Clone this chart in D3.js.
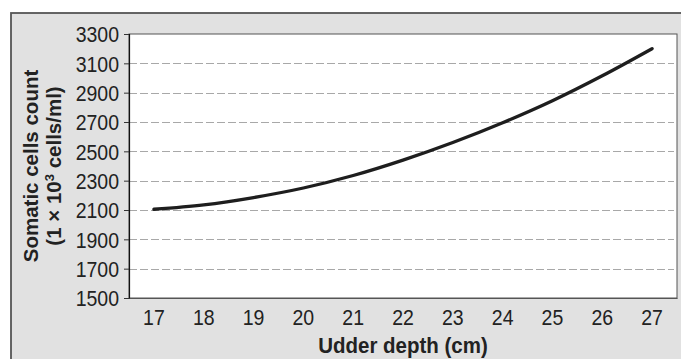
<!DOCTYPE html>
<html><head><meta charset="utf-8">
<script src="https://cdn.jsdelivr.net/npm/d3@7"></script>
<style>html,body{margin:0;padding:0;background:#fff;}svg{display:block;}</style>
</head><body>
<script>
const depths = [17,18,19,20,21,22,23,24,25,26,27];
const scc = [2105,2135,2185,2250,2335,2440,2560,2695,2845,3015,3200];
const yTicks = [1500,1700,1900,2100,2300,2500,2700,2900,3100,3300];
const xTitle = "Udder depth (cm)";
const yTitle1 = "Somatic cells count";

const W = 681, H = 359;
const plot = {l:129, r:677, t:34, b:298};
const SY = 1.12;
const svg = d3.select("body").append("svg").attr("width",W).attr("height",H);
const font = "'Liberation Sans', Arial, sans-serif";

svg.append("rect").attr("x",11).attr("y",13).attr("width",W).attr("height",H)
  .attr("fill","#e1e1e1").attr("stroke","#555").attr("stroke-width",1.8);

svg.append("rect").attr("x",plot.l).attr("y",plot.t).attr("width",plot.r-plot.l).attr("height",plot.b-plot.t)
  .attr("fill","#fff").attr("stroke","#555").attr("stroke-width",1);

const x = d3.scaleBand().domain(depths).range([plot.l, plot.r]);
const xc = d => x(d) + x.bandwidth()/2;
const y = d3.scaleLinear().domain([1500,3300]).range([plot.b, plot.t]);

// gridlines
svg.append("g").selectAll("line").data(yTicks.filter(t => t>1500 && t<3300)).join("line")
  .attr("x1",plot.l).attr("x2",plot.r-3).attr("y1",d=>Math.round(y(d))+0.5).attr("y2",d=>Math.round(y(d))+0.5)
  .attr("stroke","#a8a8a8").attr("stroke-width",1).attr("stroke-dasharray","8,3");

// y axis
const ya = svg.append("g").attr("transform",`translate(${plot.l},0)`)
  .call(d3.axisLeft(y).tickValues(yTicks).tickSize(5).tickPadding(5).tickFormat(d3.format("d")));
ya.select(".domain").attr("stroke","#111").attr("stroke-width",1.2);
ya.selectAll(".tick line").attr("stroke","#333");
ya.selectAll("text").attr("font-family",font).attr("font-size","19.5px").attr("fill","#222")
  .attr("y",7.8/SY*SY/SY).attr("dy",0).attr("transform",`scale(1,${SY})`);

// x axis
const xa = svg.append("g").attr("transform",`translate(0,${plot.b})`)
  .call(d3.axisBottom(x).tickSize(0).tickPadding(14));
xa.select(".domain").attr("stroke","#555").attr("stroke-width",1.2);
xa.selectAll("text").attr("font-family",font).attr("font-size","19.5px").attr("fill","#222")
  .attr("y",27/SY).attr("dy",0).attr("transform",`scale(1,${SY})`);

// line
svg.append("path").datum(depths.map((d,i)=>[xc(d), y(scc[i])]))
  .attr("fill","none").attr("stroke","#1e1e1e").attr("stroke-width",3.3).attr("stroke-linecap","round")
  .attr("d", d3.line().curve(d3.curveMonotoneX));

// titles
svg.append("text").attr("transform",`translate(${(plot.l+plot.r)/2},353) scale(1,${SY})`).attr("text-anchor","middle")
  .attr("font-family",font).attr("font-weight","bold").attr("font-size","20.5px").attr("fill","#222").text(xTitle);

const cy = (plot.t+plot.b)/2;
svg.append("text").attr("transform",`translate(38,${cy}) rotate(-90)`).attr("text-anchor","middle")
  .attr("font-family",font).attr("font-weight","bold").attr("font-size","20.5px").attr("fill","#222").text(yTitle1);
const t2 = svg.append("text").attr("transform",`translate(61,${cy}) rotate(-90)`).attr("text-anchor","middle")
  .attr("font-family",font).attr("font-weight","bold").attr("font-size","20.5px").attr("fill","#222");
t2.append("tspan").text("(1 × 10");
t2.append("tspan").attr("font-size","13px").attr("dy","-7").text("3");
t2.append("tspan").attr("dy","7").text(" cells/ml)");
</script>
</body></html>
